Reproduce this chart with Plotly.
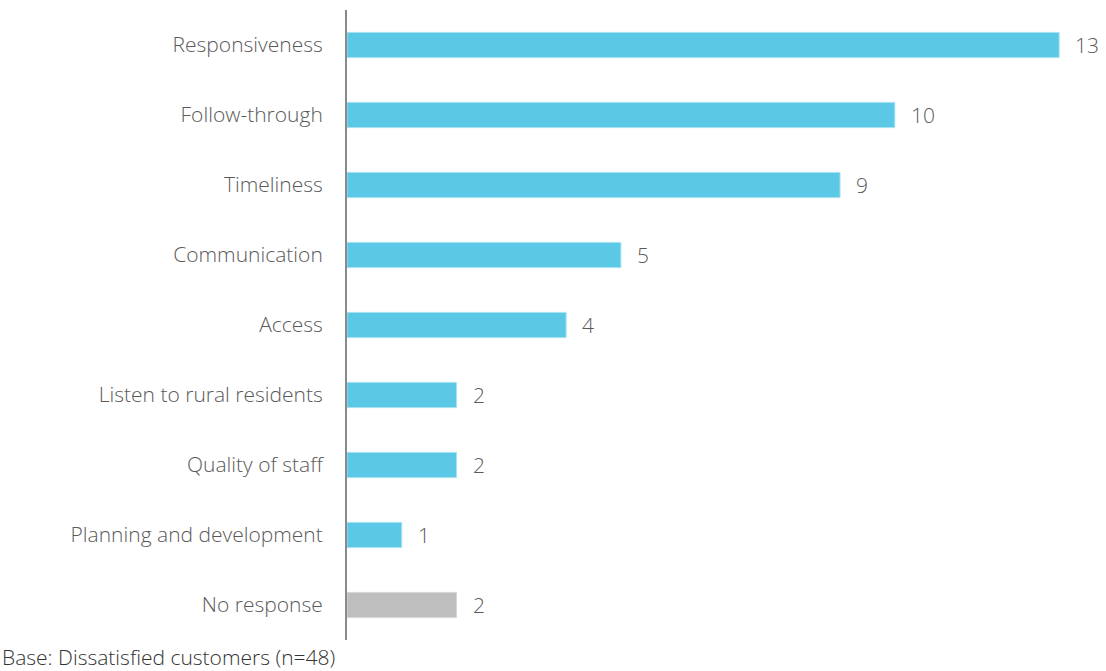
import plotly.graph_objects as go

categories = [
    "Responsiveness",
    "Follow-through",
    "Timeliness",
    "Communication",
    "Access",
    "Listen to rural residents",
    "Quality of staff",
    "Planning and development",
    "No response",
]
counts = [13, 10, 9, 5, 4, 2, 2, 1, 2]
bar_colors = ["#5BC9E6"] * 8 + ["#BEBEBE"]
line_colors = ["#A8E2F2"] * 8 + ["#D6D6D6"]
footnote = "Base: Dissatisfied customers (n=48)"

FONT = "Open Sans"
TEXT_COLOR = "#5a5a5a"

fig = go.Figure(
    go.Bar(
        x=counts,
        y=categories,
        orientation="h",
        marker=dict(color=bar_colors, line=dict(color=line_colors, width=1)),
        width=0.36,
        hoverinfo="x+y",
    )
)

# value labels just past each bar end
for cat, val in zip(categories, counts):
    fig.add_annotation(
        x=val, y=cat, xref="x", yref="y",
        text=str(val), showarrow=False,
        xanchor="left", xshift=14,
        font=dict(family=FONT, size=21, color=TEXT_COLOR, weight=300),
    )

fig.add_annotation(
    x=0, y=0, xref="paper", yref="paper",
    text=footnote, showarrow=False,
    xanchor="left", yanchor="middle", yshift=-17, xshift=-347,
    font=dict(family=FONT, size=21, color="#333333", weight=300),
    align="left",
)

fig.update_layout(
    width=1106, height=671,
    margin=dict(l=347, r=3, t=10, b=31),
    plot_bgcolor="white", paper_bgcolor="white",
    showlegend=False,
    xaxis=dict(
        range=[0, 13.8], visible=False, showgrid=False, zeroline=False,
        fixedrange=True,
    ),
    yaxis=dict(
        autorange=False, range=[8.5, -0.5],
        showline=True, linecolor="#8a8a8a", linewidth=2,
        ticks="", showgrid=False, zeroline=False,
        ticklabelstandoff=18,
        tickfont=dict(family=FONT, size=21, color=TEXT_COLOR, weight=300),
    ),
)

fig.write_html("out.html")
